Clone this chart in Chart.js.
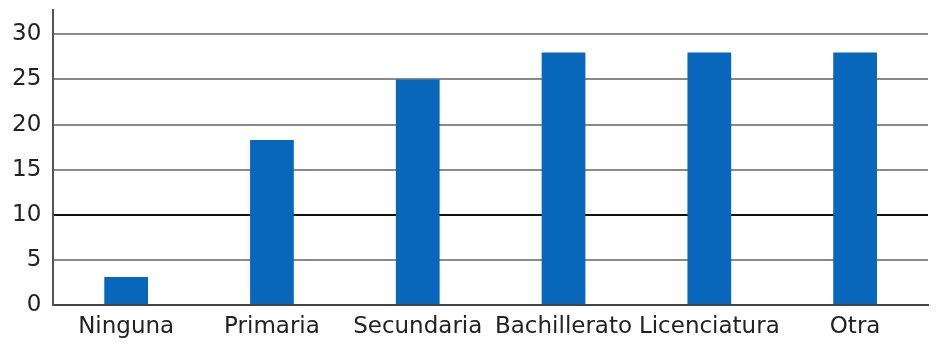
<!DOCTYPE html>
<html>
<head>
<meta charset="utf-8">
<script src="https://cdn.jsdelivr.net/npm/chart.js@4"></script>
<style>
  html, body { margin: 0; padding: 0; background: #fff; }
  #wrap { width: 938px; height: 342px; }
</style>
</head>
<body>
<div id="wrap"><canvas id="chart"></canvas></div>
<script>
// data
const categories = ['Ninguna', 'Primaria', 'Secundaria', 'Bachillerato', 'Licenciatura', 'Otra'];
const values = [3.1, 18.3, 25, 28, 28, 28];
const yTicks = [0, 5, 10, 15, 20, 25, 30];

const ctx = document.getElementById('chart');
new Chart(ctx, {
    type: 'bar',
    data: {
        labels: categories,
        datasets: [{
            data: values,
            backgroundColor: '#0866bb',
            borderWidth: 0,
            barPercentage: 0.3,
            categoryPercentage: 1
        }]
    },
    options: {
        responsive: true,
        maintainAspectRatio: false,
        animation: false,
        layout: { padding: { top: 10, right: 10, left: 0, bottom: 0 } },
        plugins: {
            legend: { display: false },
            tooltip: { enabled: false }
        },
        scales: {
            x: {
                afterFit: function(s) { s.height = 37; },
                grid: { display: false },
                border: { display: true, color: '#444', width: 2 },
                ticks: {
                    color: '#222',
                    padding: 0,
                    maxRotation: 0,
                    autoSkip: false,
                    font: { family: 'DejaVu Sans', size: 23 }
                }
            },
            y: {
                min: 0,
                max: 32.7,
                afterBuildTicks: function(axis) {
                    axis.ticks = yTicks.map(v => ({ value: v }));
                },
                afterFit: function(s) { s.paddingTop = 0; s.paddingBottom = 0; },
                grid: {
                    drawTicks: false,
                    lineWidth: 2,
                    color: function(c) {
                        return c.tick && c.tick.value === 10 ? '#111' : '#8a8a8a';
                    }
                },
                border: { display: true, color: '#555', width: 2 },
                ticks: {
                    color: '#222',
                    padding: 12,
                    font: { family: 'DejaVu Sans', size: 23 }
                }
            }
        }
    }
});
</script>
</body>
</html>
